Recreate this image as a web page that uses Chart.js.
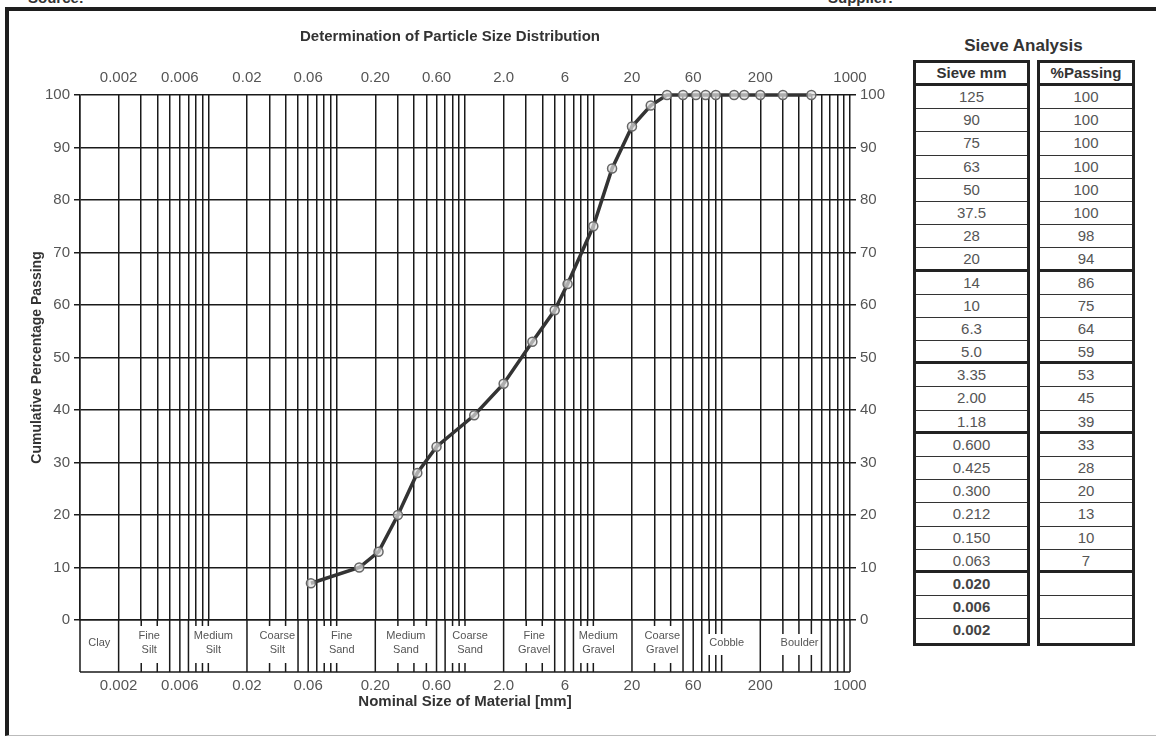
<!DOCTYPE html>
<html lang="en">
<head>
<meta charset="UTF-8">
<title>Particle Size Distribution</title>
<script src="https://cdn.jsdelivr.net/npm/chart.js@4.4.0/dist/chart.umd.min.js"></script>
<style>
body{margin:0;width:1156px;height:736px;overflow:hidden;background:#fff;font-family:"Liberation Sans",Arial,sans-serif;position:relative;}
#frame{position:absolute;left:5px;top:7px;width:1160px;height:724px;border-top:4px solid #1e1e1e;border-left:4px solid #1e1e1e;border-bottom:1px solid #bbb;}
#wrap{position:absolute;left:0;top:0;width:900px;height:736px;}
.cut{position:absolute;top:-11px;font-weight:bold;font-size:15px;color:#333;}
#sieveTitle{position:absolute;left:913px;width:221px;top:36px;text-align:center;font-weight:bold;font-size:17px;color:#333;}
.col{position:absolute;top:60px;border:3px solid #222;box-sizing:border-box;background:#fff;}
.cell{height:23.2px;border-bottom:1.5px solid #333;box-sizing:border-box;text-align:center;font-size:15px;color:#555;line-height:22px;}
.cell:last-child{border-bottom:none;}
.cell.thick{border-bottom:3px solid #222;line-height:21px;}
.cell.b{font-weight:bold;color:#444;}
.head{height:23px;border-bottom:3px solid #222;font-weight:bold;color:#333;line-height:20px;}
</style>
</head>
<body>
<div id="frame"></div>
<div class="cut" style="left:28px">Source:</div>
<div class="cut" style="left:828px">Supplier:</div>
<div id="wrap"><canvas id="psd" width="900" height="736"></canvas></div>
<div id="sieveTitle">Sieve Analysis</div>
<div class="col" id="colSieve" style="left:913px;width:117px"></div>
<div class="col" id="colPass" style="left:1037px;width:98px"></div>

<script>
// plotted sieve results (mm, % passing)
const sieveSizes = [500, 300, 200, 150, 125, 90, 75, 63, 50, 37.5, 28, 20, 14, 10, 6.3, 5.0, 3.35, 2.00, 1.18, 0.600, 0.425, 0.300, 0.212, 0.150, 0.063];
const percentPassing = [100, 100, 100, 100, 100, 100, 100, 100, 100, 100, 98, 94, 86, 75, 64, 59, 53, 45, 39, 33, 28, 20, 13, 10, 7];

// table on the right
const tableSieve = ['125','90','75','63','50','37.5','28','20','14','10','6.3','5.0','3.35','2.00','1.18','0.600','0.425','0.300','0.212','0.150','0.063','0.020','0.006','0.002'];
const tablePassing = ['100','100','100','100','100','100','98','94','86','75','64','59','53','45','39','33','28','20','13','10','7','','',''];

// labelled sizes on top and bottom axes
const sizeTicks = [0.002, 0.006, 0.02, 0.06, 0.2, 0.6, 2, 6, 20, 60, 200, 1000];
const sizeTickLabels = ['0.002','0.006','0.02','0.06','0.20','0.60','2.0','6','20','60','200','1000'];

// soil classes under the plot
const classNames = ['Clay','Fine Silt','Medium Silt','Coarse Silt','Fine Sand','Medium Sand','Coarse Sand','Fine Gravel','Medium Gravel','Coarse Gravel','Cobble','Boulder'];
const classLimits = [0.001, 0.002, 0.006, 0.02, 0.06, 0.2, 0.6, 2, 6, 20, 60, 200, 1000];
const classLines = [0.002, 0.005, 0.006, 0.007, 0.02, 0.05, 0.06, 0.07, 0.2, 0.6, 0.7, 2, 5, 6, 7, 20, 50, 60, 70, 200, 600, 700, 800, 900];

// log grid 1..9 x 10^n
const gridValues = [];
for (let e = -3; e <= 2; e++) {
  for (let m = 1; m <= 9; m++) gridValues.push(+(m * Math.pow(10, e)).toPrecision(6));
}
gridValues.push(1000);

const same = (a, b) => Math.abs(a - b) / b < 1e-6;
function labelFor(v) {
  const i = sizeTicks.findIndex(t => same(v, t));
  return i < 0 ? '' : sizeTickLabels[i];
}

// build table
const thickAfter = [7, 11, 14, 20];
function fillCol(id, head, rows, boldFrom) {
  const col = document.getElementById(id);
  let html = '<div class="cell head">' + head + '</div>';
  rows.forEach((r, i) => {
    let cls = 'cell';
    if (thickAfter.includes(i)) cls += ' thick';
    if (boldFrom >= 0 && i >= boldFrom) cls += ' b';
    html += '<div class="' + cls + '">' + (r || '&nbsp;') + '</div>';
  });
  col.innerHTML = html;
}
fillCol('colSieve', 'Sieve mm', tableSieve, 21);
fillCol('colPass', '%Passing', tablePassing, -1);

const FONT = '"Liberation Sans", Arial, sans-serif';
Chart.defaults.font.family = FONT;

// classification band under the x axis
const bandPlugin = {
  id: 'soilBand',
  afterDraw(chart) {
    const {ctx, chartArea: {left, right, bottom}} = chart;
    const x = chart.scales.x;
    const top = bottom, base = bottom + 52;
    const fullLines = [0.001].concat(classLines, [1000]);
    const fullPx = fullLines.map(v => x.getPixelForValue(v));
    ctx.save();
    ctx.strokeStyle = '#1a1a1a';
    ctx.lineWidth = 1.5;
    ctx.beginPath();
    ctx.moveTo(left, base); ctx.lineTo(right, base);
    fullPx.forEach(px => { ctx.moveTo(px, top); ctx.lineTo(px, base); });
    gridValues.forEach(v => {
      if (fullLines.some(c => same(v, c))) return;
      const px = x.getPixelForValue(v);
      const long = v > 70;
      const t1 = long ? 14 : 6, t2 = long ? 17 : 9;
      ctx.moveTo(px, top); ctx.lineTo(px, top + t1);
      ctx.moveTo(px, base - t2); ctx.lineTo(px, base);
    });
    ctx.stroke();

    ctx.fillStyle = '#555';
    ctx.font = '11px ' + FONT;
    ctx.textAlign = 'center';
    ctx.textBaseline = 'middle';
    classNames.forEach((name, i) => {
      let px = x.getPixelForValue(Math.sqrt(classLimits[i] * classLimits[i + 1]));
      const parts = name.split(' ');
      // keep the label inside the gap between its two full lines
      const w = Math.max(...parts.map(p => ctx.measureText(p).width));
      const lo = Math.max(...fullPx.filter(p => p <= px));
      const hi = Math.min(...fullPx.filter(p => p > px));
      px = Math.min(Math.max(px, lo + w / 2 + 3), hi - w / 2 - 3);
      if (parts.length === 2) {
        ctx.fillText(parts[0], px, top + 16);
        ctx.fillText(parts[1], px, top + 30);
      } else {
        ctx.fillText(name, px, top + 23);
      }
    });
    ctx.restore();
  }
};

new Chart(document.getElementById('psd'), {
  type: 'line',
  data: {
    datasets: [{
      data: sieveSizes.map((s, i) => ({x: s, y: percentPassing[i]})),
      borderColor: '#333',
      borderWidth: 3.5,
      pointRadius: 4.5,
      pointBorderWidth: 1.5,
      pointBorderColor: '#666',
      pointBackgroundColor: 'rgba(225,225,225,0.7)',
      tension: 0,
      clip: false
    }]
  },
  options: {
    responsive: false,
    animation: false,
    layout: {padding: 0},
    plugins: {
      legend: {display: false},
      tooltip: {enabled: false},
      title: {
        display: true,
        text: 'Determination of Particle Size Distribution',
        color: '#333',
        font: {size: 15, weight: 'bold'},
        padding: {top: 28, bottom: 0}
      }
    },
    scales: {
      x: {
        type: 'logarithmic', position: 'bottom', min: 0.001, max: 1000,
        afterBuildTicks: s => { s.ticks = gridValues.map(v => ({value: v})); },
        afterFit: s => { s.height = 116; s.paddingLeft = 0; s.paddingRight = 0; },
        grid: {color: '#1a1a1a', lineWidth: 1.5, drawTicks: false},
        border: {color: '#1a1a1a', width: 1.5},
        ticks: {autoSkip: false, maxRotation: 0, padding: 57, color: '#555', font: {size: 15}, callback: v => labelFor(v)},
        title: {display: true, text: 'Nominal Size of Material [mm]', color: '#333', font: {size: 15, weight: 'bold'}, padding: {top: 0, bottom: 25}}
      },
      x2: {
        type: 'logarithmic', position: 'top', min: 0.001, max: 1000,
        afterBuildTicks: s => { s.ticks = sizeTicks.map(v => ({value: v})); },
        afterFit: s => { s.height = 49; s.paddingLeft = 0; s.paddingRight = 0; },
        grid: {drawOnChartArea: false, drawTicks: false},
        border: {display: false},
        ticks: {autoSkip: false, maxRotation: 0, padding: 8, color: '#555', font: {size: 15}, callback: v => labelFor(v)}
      },
      y: {
        position: 'left', min: 0, max: 100,
        afterFit: s => { s.width = 80; },
        ticks: {stepSize: 10, padding: 4, color: '#555', font: {size: 15}},
        grid: {color: '#1a1a1a', lineWidth: 1.5, tickLength: 6},
        border: {color: '#1a1a1a', width: 1.5},
        title: {display: true, text: 'Cumulative Percentage Passing', color: '#333', font: {size: 14, weight: 'bold'}, padding: {top: 29, bottom: 0}}
      },
      y2: {
        position: 'right', min: 0, max: 100,
        afterFit: s => { s.width = 50; },
        ticks: {stepSize: 10, padding: 4, color: '#555', font: {size: 15}},
        grid: {drawOnChartArea: false, color: '#1a1a1a', lineWidth: 1.5, tickLength: 6},
        border: {display: false}
      }
    }
  },
  plugins: [bandPlugin]
});
</script>
</body>
</html>
